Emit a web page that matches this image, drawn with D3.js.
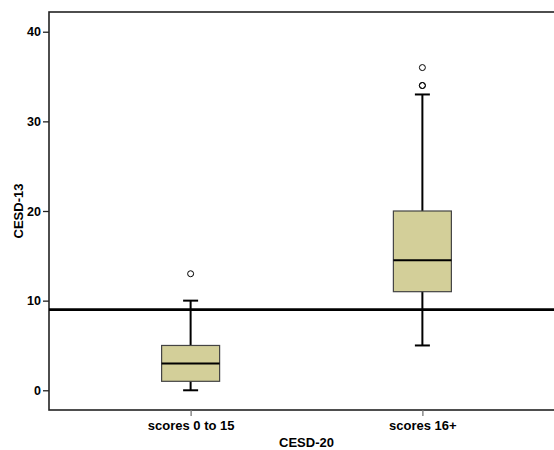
<!DOCTYPE html>
<html>
<head>
<meta charset="utf-8">
<script src="https://cdn.jsdelivr.net/npm/d3@7"></script>
<style>
  body { margin: 0; background: #fff; }
  text { font-family: "Liberation Sans", Arial, sans-serif; font-weight: bold; fill: #000; }
</style>
</head>
<body>
<script>
"use strict";

// groups (CESD-20) and box statistics of CESD-13
const groups = ['scores 0 to 15', 'scores 16+'];
const whiskerLow = [0, 5];
const q1 = [1, 11];
const median = [3, 14.5];
const q3 = [5, 20];
const whiskerHigh = [10, 33];
const outliers = [[13], [34, 34, 36]];
const yTicks = [0, 10, 20, 30, 40];
const cutoff = 9;

const width = 554, height = 450;
const margin = { top: 12, left: 49, bottom: 40 };
const plotRight = 564;   // frame runs past the window edge
const plotBottom = height - margin.bottom;

const svg = d3.select('body').append('svg')
  .attr('width', width)
  .attr('height', height);

const x = d3.scalePoint()
  .domain(groups)
  .range([margin.left, plotRight])
  .padding(0.611);

const y = d3.scaleLinear()
  .domain([-2.2, 42.2])
  .range([plotBottom, margin.top]);

const boxWidth = 58;
const capWidth = 15;

// frame
svg.append('rect')
  .attr('x', margin.left)
  .attr('y', margin.top)
  .attr('width', plotRight - margin.left)
  .attr('height', plotBottom - margin.top)
  .attr('fill', 'none')
  .attr('stroke', '#222')
  .attr('stroke-width', 1.6);

// y axis
const yAxis = svg.append('g')
  .attr('transform', `translate(${margin.left},0)`)
  .call(d3.axisLeft(y).tickValues(yTicks).tickSize(6).tickPadding(2));
yAxis.select('.domain').remove();
yAxis.selectAll('line').attr('stroke', '#222').attr('stroke-width', 1.3);
yAxis.selectAll('text').style('font-size', '12.5px');

// x axis
const xAxis = svg.append('g')
  .attr('transform', `translate(0,${plotBottom})`)
  .call(d3.axisBottom(x).tickSize(6).tickPadding(5));
xAxis.select('.domain').remove();
xAxis.selectAll('line').attr('stroke', '#777').attr('stroke-width', 1.3);
xAxis.selectAll('text').style('font-size', '13px');

// axis titles
svg.append('text')
  .attr('x', (margin.left + plotRight) / 2)
  .attr('y', 447)
  .attr('text-anchor', 'middle')
  .style('font-size', '13px')
  .text('CESD-20');

svg.append('text')
  .attr('transform', `translate(23,${(margin.top + plotBottom) / 2}) rotate(-90)`)
  .attr('text-anchor', 'middle')
  .style('font-size', '13px')
  .text('CESD-13');

// boxes
const boxes = svg.append('g').selectAll('g')
  .data(groups)
  .join('g')
  .attr('transform', d => `translate(${x(d)},0)`);

boxes.append('line')
  .attr('y1', (d, i) => y(whiskerLow[i]))
  .attr('y2', (d, i) => y(whiskerHigh[i]))
  .attr('stroke', '#000')
  .attr('stroke-width', 2);

boxes.each(function (d, i) {
  const g = d3.select(this);
  [whiskerLow[i], whiskerHigh[i]].forEach(v => {
    g.append('line')
      .attr('x1', -capWidth / 2).attr('x2', capWidth / 2)
      .attr('y1', y(v)).attr('y2', y(v))
      .attr('stroke', '#000')
      .attr('stroke-width', 2);
  });
});

boxes.append('rect')
  .attr('x', -boxWidth / 2)
  .attr('width', boxWidth)
  .attr('y', (d, i) => y(q3[i]))
  .attr('height', (d, i) => y(q1[i]) - y(q3[i]))
  .attr('fill', '#d3cf99')
  .attr('stroke', '#444')
  .attr('stroke-width', 1.2);

boxes.append('line')
  .attr('x1', -boxWidth / 2).attr('x2', boxWidth / 2)
  .attr('y1', (d, i) => y(median[i]))
  .attr('y2', (d, i) => y(median[i]))
  .attr('stroke', '#000')
  .attr('stroke-width', 2);

boxes.selectAll('circle')
  .data((d, i) => outliers[i])
  .join('circle')
  .attr('cy', v => y(v))
  .attr('r', 3)
  .attr('fill', 'none')
  .attr('stroke', '#000')
  .attr('stroke-width', 1);

// reference line at cutoff
svg.append('line')
  .attr('x1', margin.left).attr('x2', plotRight)
  .attr('y1', y(cutoff)).attr('y2', y(cutoff))
  .attr('stroke', '#000')
  .attr('stroke-width', 2.6);
</script>
</body>
</html>
